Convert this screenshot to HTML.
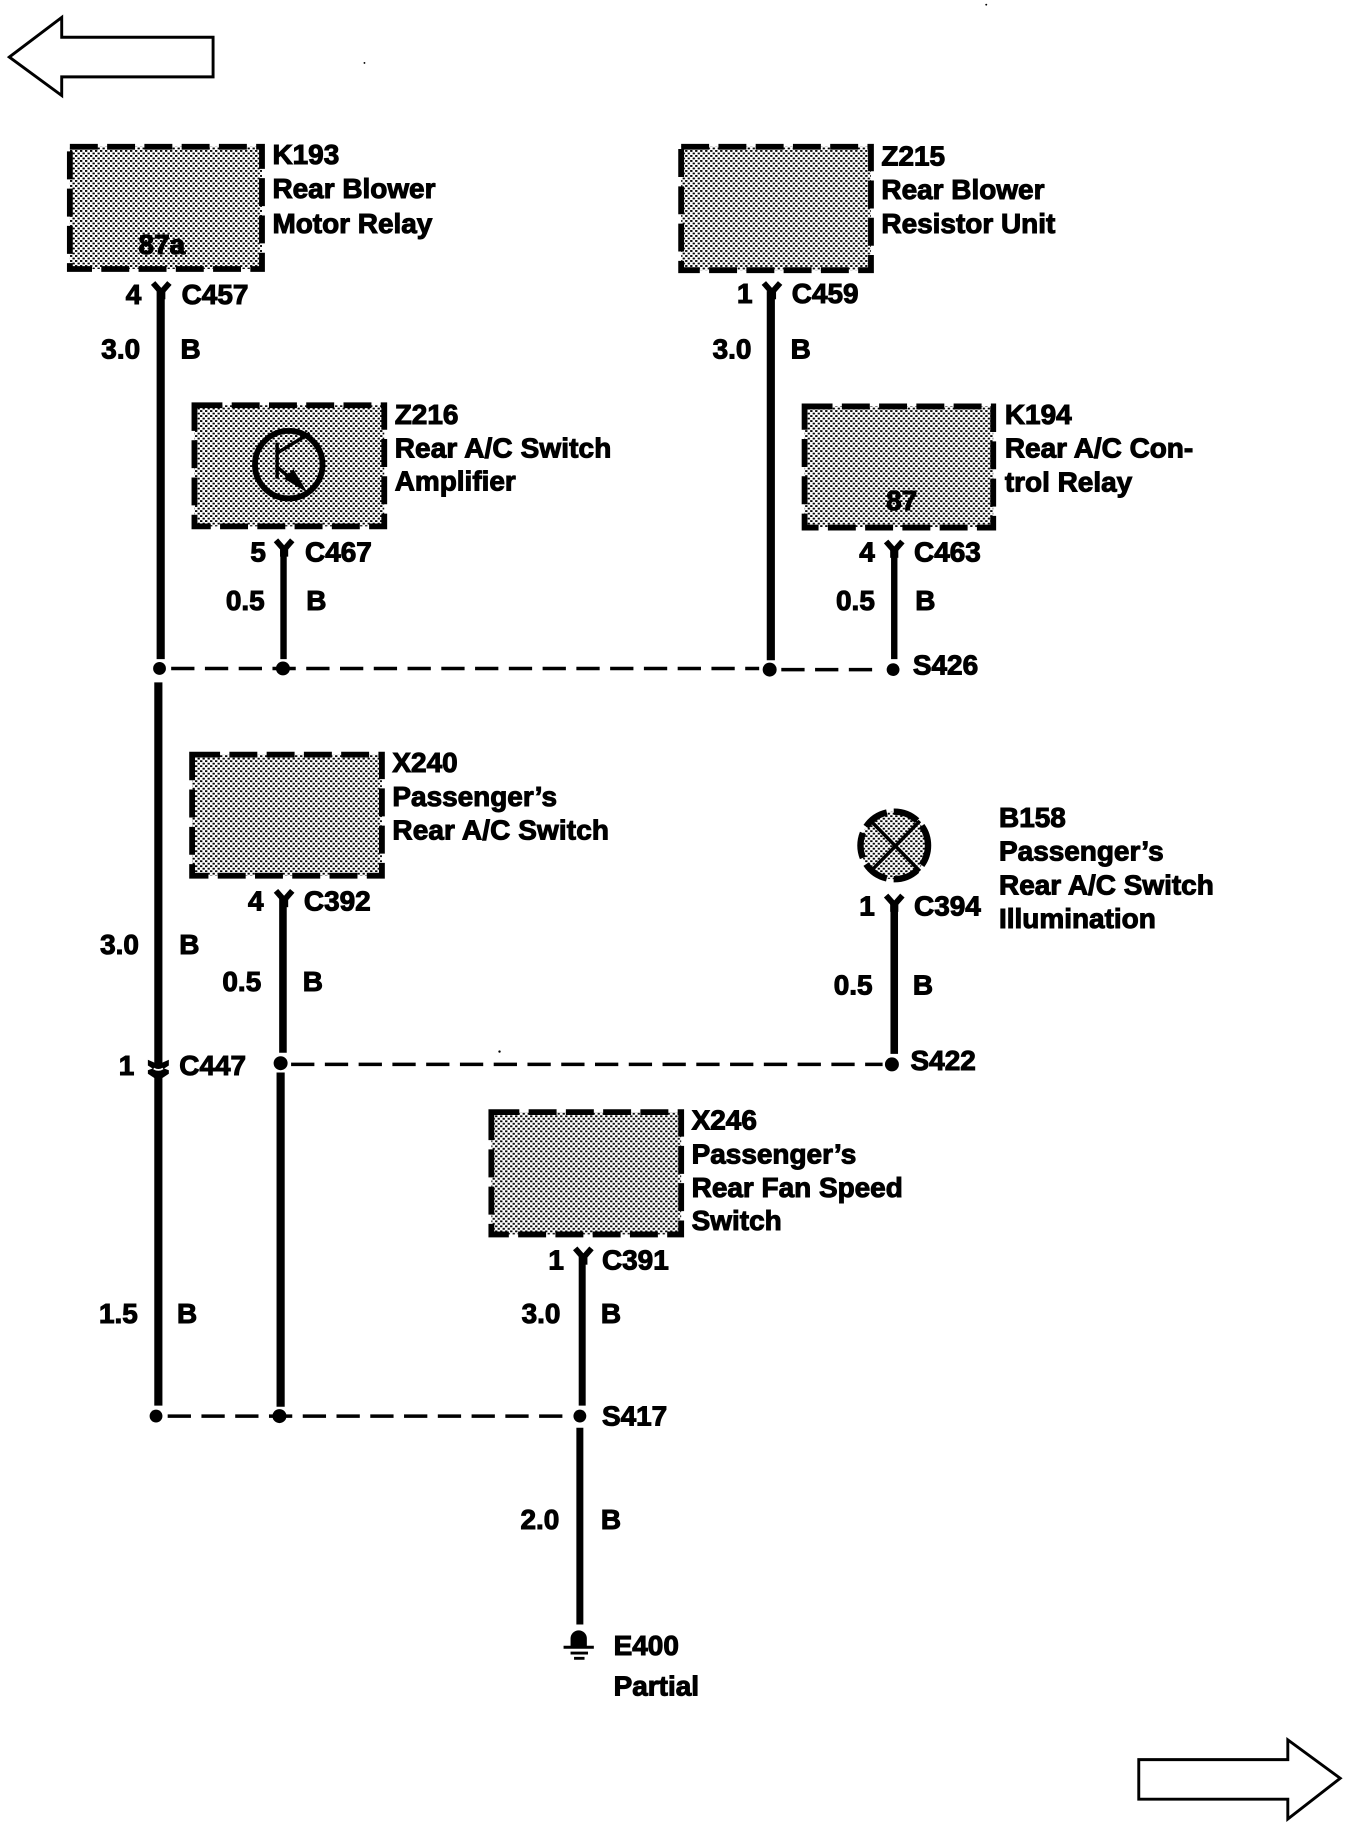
<!DOCTYPE html>
<html><head><meta charset="utf-8"><style>
html,body{margin:0;padding:0;background:#fff}
svg{display:block}
text{font-family:"Liberation Sans",sans-serif;font-weight:bold;font-size:24px;fill:#000;stroke:#000;stroke-width:.9}
.b{stroke-dasharray:24 8;stroke:#000;stroke-width:5;fill:url(#p)}
.w{stroke:#000;fill:none}
.d{stroke:#000;stroke-width:3;stroke-dasharray:20 9;fill:none}
</style></head><body>
<svg width="1360" height="1826" viewBox="0 0 1168 1568" preserveAspectRatio="none" xmlns="http://www.w3.org/2000/svg">
<defs>
<pattern id="p" width="5" height="5" patternUnits="userSpaceOnUse" patternTransform="scale(.859 .859)">
<rect width="5" height="5" fill="#fff"/>
<rect x="0" y="0" width="2.300" height="1.800" fill="#000"/>
<rect x="2.500" y="2.500" width="2.300" height="1.800" fill="#000"/>
</pattern>
<g id="y"><path d="M-7 0 L0 8 L7 0" fill="none" stroke="#000" stroke-width="5"/><path d="M-3.500 6 H3.500 L3.500 14 H-3.500z" fill="#000"/></g>
</defs>
<rect width="1168" height="1568" fill="#fff"/>

<polygon points="8,49 53,15 53,32 183,32 183,66 53,66 53,82" fill="#fff" stroke="#000" stroke-width="2.500"/>
<polygon points="978,1511 1106,1511 1106,1494 1151,1527 1106,1562 1106,1545 978,1545" fill="#fff" stroke="#000" stroke-width="2.500"/>

<rect class="b" x="60" y="126" width="165" height="105"/>
<rect class="b" x="585" y="126" width="163" height="106"/>
<rect class="b" x="167" y="348" width="163" height="104"/>
<rect class="b" x="691" y="349" width="162" height="104"/>
<rect class="b" x="165" y="648" width="163" height="104"/>
<rect class="b" x="422" y="955" width="163" height="105"/>

<circle cx="248" cy="399" r="29" fill="none" stroke="#000" stroke-width="5"/>
<path d="M238 380 V411 M238 389 L266 372 M238 401 L252 413" fill="none" stroke="#000" stroke-width="3"/>
<polygon points="244,411 252,403 264,423" fill="#000"/>

<ellipse cx="768" cy="726" rx="29" ry="29" fill="url(#p)" stroke="#000" stroke-width="5.500" stroke-dasharray="22 6" stroke-dashoffset="4"/>
<path d="M748 705 L790 748 M790 705 L748 748" stroke="#000" stroke-width="3"/>

<path class="w" stroke-width="7" d="M138 250 V566"/>
<path class="w" stroke-width="7" d="M136 586 V1207"/>
<path class="w" stroke-width="7" d="M662 250 V567"/>
<path class="w" stroke-width="5.500" d="M243.500 470 V566"/>
<path class="w" stroke-width="5.500" d="M768 470 V566"/>
<path class="w" stroke-width="6.500" d="M243 770 V904"/>
<path class="w" stroke-width="7" d="M241 921 V1208"/>
<path class="w" stroke-width="6.500" d="M768 774 V905"/>
<path class="w" stroke-width="6" d="M500 1078 V1207"/>
<path class="w" stroke-width="6" d="M498 1226 V1395"/>

<use href="#y" x="138.500" y="243"/>
<use href="#y" x="663" y="243"/>
<use href="#y" x="244" y="464"/>
<use href="#y" x="768" y="465"/>
<use href="#y" x="244" y="765"/>
<use href="#y" x="768" y="769"/>
<use href="#y" x="501" y="1072"/>
<path d="M127 910 L136 914 L145 910 V915 L141 917.500 L145 919 V922 L139 926 H133 L127 922 V919 L131 917.500 L127 915Z" fill="#000"/>
<path d="M132 917.500 Q136 920 140 917.500" fill="none" stroke="#fff" stroke-width="1.500"/>

<path class="d" d="M147 574 H652"/>
<path class="d" d="M671 575 H758"/>
<path class="d" d="M250 914 H758"/>
<path class="d" d="M144 1216 H490"/>
<circle cx="137" cy="574" r="5.500"/><circle cx="243" cy="574" r="6"/><circle cx="661" cy="575" r="6"/><circle cx="767" cy="575" r="5.500"/>
<circle cx="241" cy="913" r="6"/><circle cx="766" cy="914" r="6"/>
<circle cx="134" cy="1216" r="5.500"/><circle cx="240" cy="1216" r="6"/><circle cx="498" cy="1216" r="5.500"/>

<path d="M490 1414 V1407 a7 7 0 0 1 14 0 V1414 z" fill="#000"/>
<path d="M484 1414.500 H510 M490 1419.500 H505 M493 1424 H502" stroke="#000" stroke-width="2.500"/>

<circle cx="847" cy="4" r=".8"/><circle cx="313" cy="54" r=".8"/><circle cx="429" cy="903" r="1"/>

<text x="234" y="141">K193</text><text x="234" y="170">Rear Blower</text><text x="234" y="200">Motor Relay</text>
<text x="119" y="218">87a</text>
<text x="108" y="261">4</text><text x="156" y="261">C457</text>
<text x="87" y="308">3.0</text><text x="155" y="308">B</text>
<text x="757" y="142">Z215</text><text x="757" y="171">Rear Blower</text><text x="757" y="200">Resistor Unit</text>
<text x="633" y="260">1</text><text x="680" y="260">C459</text>
<text x="612" y="308">3.0</text><text x="679" y="308">B</text>
<text x="339" y="364">Z216</text><text x="339" y="393" textLength="186">Rear A/C Switch</text><text x="339" y="421">Amplifier</text>
<text x="215" y="482">5</text><text x="262" y="482">C467</text>
<text x="194" y="524">0.5</text><text x="263" y="524">B</text>
<text x="863" y="364">K194</text><text x="863" y="393">Rear A/C Con-</text><text x="863" y="422">trol Relay</text>
<text x="761" y="438">87</text>
<text x="738" y="482">4</text><text x="785" y="482">C463</text>
<text x="718" y="524">0.5</text><text x="786" y="524">B</text>
<text x="784" y="579">S426</text>
<text x="337" y="663">X240</text><text x="337" y="692">Passenger’s</text><text x="337" y="721" textLength="186">Rear A/C Switch</text>
<text x="213" y="782">4</text><text x="261" y="782">C392</text>
<text x="86" y="819">3.0</text><text x="154" y="819">B</text>
<text x="191" y="851">0.5</text><text x="260" y="851">B</text>
<text x="858" y="710">B158</text><text x="858" y="739">Passenger’s</text><text x="858" y="768">Rear A/C Switch</text><text x="858" y="797">Illumination</text>
<text x="738" y="786">1</text><text x="785" y="786">C394</text>
<text x="716" y="854">0.5</text><text x="784" y="854">B</text>
<text x="102" y="923">1</text><text x="154" y="923">C447</text>
<text x="782" y="919">S422</text>
<text x="594" y="970">X246</text><text x="594" y="999">Passenger’s</text><text x="594" y="1028">Rear Fan Speed</text><text x="594" y="1056">Switch</text>
<text x="471" y="1090">1</text><text x="517" y="1090">C391</text>
<text x="448" y="1136">3.0</text><text x="516" y="1136">B</text>
<text x="85" y="1136">1.5</text><text x="152" y="1136">B</text>
<text x="517" y="1224">S417</text>
<text x="447" y="1313">2.0</text><text x="516" y="1313">B</text>
<text x="527" y="1421">E400</text><text x="527" y="1456">Partial</text>
</svg>
</body></html>
